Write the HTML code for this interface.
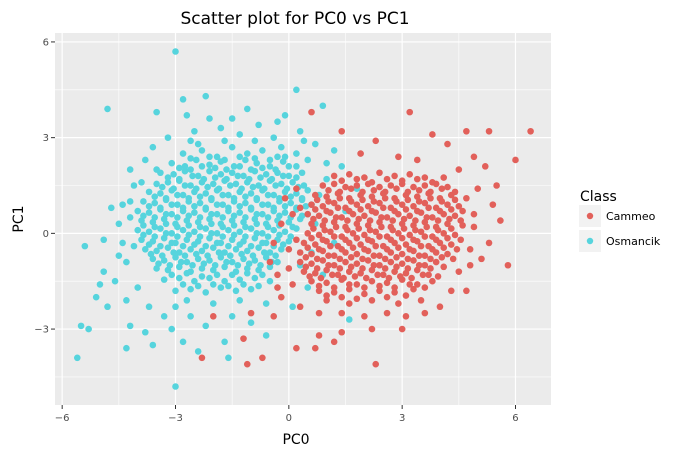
<!DOCTYPE html>
<html><head><meta charset="utf-8">
<style>
body{margin:0;background:#fff;font-family:"Liberation Sans","DejaVu Sans",sans-serif;}
svg text{font-family:"DejaVu Sans","Liberation Sans",sans-serif;}
</style></head>
<body>
<svg id="chart" width="692" height="456" xmlns="http://www.w3.org/2000/svg">
<text x="295" y="24" text-anchor="middle" font-size="17" fill="#000">Scatter plot for PC0 vs PC1</text>
<rect x="55" y="33" width="496" height="372" fill="#EBEBEB"/>
<g id="grid"></g>
<g id="points"></g>
<g id="axes"></g>
<text x="296" y="444" text-anchor="middle" font-size="14" fill="#000">PC0</text>
<text transform="translate(23,219) rotate(-90)" text-anchor="middle" font-size="14" fill="#000">PC1</text>
<g>
<text x="580" y="201" font-size="14" fill="#000">Class</text>
<rect x="579" y="205" width="22" height="22" fill="#F2F2F2"/>
<circle cx="590" cy="216" r="3.2" fill="#E2605A"/>
<text x="606" y="220" font-size="11" fill="#000">Cammeo</text>
<rect x="579" y="230" width="22" height="22" fill="#F2F2F2"/>
<circle cx="590" cy="241" r="3.2" fill="#56D4DD"/>
<text x="606" y="245" font-size="11" fill="#000">Osmancik</text>
</g>
</svg>
<script>
const xTicks = [-6, -3, 0, 3, 6];
const yTicks = [-3, 0, 3, 6];
const xMinor = [-4.5, -1.5, 1.5, 4.5];
const yMinor = [-4.5, -1.5, 1.5, 4.5];
const cyanPts = [
[-3.0,5.7],[-4.8,3.9],[0.2,4.5],[-2.2,4.3],[-2.8,4.2],[0.9,4.0],[-1.1,3.9],[-3.5,3.8],[-2.7,3.7],[-0.3,3.5],[-1.5,3.6],[-2.1,3.6],[-0.8,3.4],[-2.5,3.2],[0.3,3.2],[-1.8,3.3],[-3.2,3.0],[-0.4,3.0],[-1.3,3.1],[0.7,2.8],[1.2,2.6],[-3.6,2.7],[-2.6,2.9],[-4.2,2.0],[-3.8,2.3],[1.0,2.2],
[-2.8,2.5],[-2.3,2.6],[-1.9,2.4],[-1.5,2.7],[-1.1,2.5],[-0.7,2.6],[-0.3,2.4],[0.2,2.5],
[-3.1,2.2],[-2.75,2.1],[-2.45,2.3],[-2.1,2.15],[-1.8,2.25],[-1.45,2.1],[-1.15,2.3],[-0.85,2.2],[-0.5,2.1],[-0.15,2.25],[0.2,2.1],
[-3.4,1.9],[-3.05,1.85],[-2.75,1.95],[-2.4,1.8],[-2.1,1.95],[-1.8,1.85],[-1.5,1.9],[-1.2,1.8],[-0.9,1.95],[-0.6,1.85],[-0.3,1.9],[0.0,1.8],[0.35,1.9],
[-3.5,1.55],[-3.2,1.6],[-2.9,1.65],[-2.6,1.5],[-2.3,1.6],[-2.0,1.55],[-1.7,1.65],[-1.4,1.55],[-1.1,1.6],[-0.8,1.5],[-0.5,1.65],[-0.2,1.55],[0.1,1.6],[0.4,1.5],
[-3.7,1.3],[-3.4,1.25],[-3.1,1.35],[-2.8,1.2],[-2.5,1.3],[-2.2,1.25],[-1.9,1.35],[-1.6,1.2],[-1.3,1.3],[-1.0,1.25],[-0.7,1.35],[-0.4,1.2],[-0.1,1.3],[0.2,1.25],[0.5,1.35],
[-3.85,1.0],[-3.55,0.95],[-3.25,1.05],[-2.95,0.9],[-2.65,1.0],[-2.35,0.95],[-2.05,1.05],[-1.75,0.9],[-1.45,1.0],[-1.15,0.95],[-0.85,1.05],[-0.55,0.9],[-0.25,1.0],[0.05,0.95],[0.35,1.05],[0.6,0.9],
[-4.0,0.7],[-3.7,0.65],[-3.4,0.75],[-3.1,0.6],[-2.8,0.7],[-2.5,0.65],[-2.2,0.75],[-1.9,0.6],[-1.6,0.7],[-1.3,0.65],[-1.0,0.75],[-0.7,0.6],[-0.4,0.7],[-0.1,0.65],[0.2,0.75],[0.5,0.6],
[-3.9,0.4],[-3.6,0.35],[-3.3,0.45],[-3.0,0.3],[-2.7,0.4],[-2.4,0.35],[-2.1,0.45],[-1.8,0.3],[-1.5,0.4],[-1.2,0.35],[-0.9,0.45],[-0.6,0.3],[-0.3,0.4],[0.0,0.35],[0.3,0.45],
[-4.0,0.1],[-3.7,0.05],[-3.4,0.15],[-3.1,0.0],[-2.8,0.1],[-2.5,0.05],[-2.2,0.15],[-1.9,0.0],[-1.6,0.1],[-1.3,0.05],[-1.0,0.15],[-0.7,0.0],[-0.4,0.1],[-0.1,0.05],[0.2,0.15],
[-3.9,-0.2],[-3.6,-0.25],[-3.3,-0.15],[-3.0,-0.3],[-2.7,-0.2],[-2.4,-0.25],[-2.1,-0.15],[-1.8,-0.3],[-1.5,-0.2],[-1.2,-0.25],[-0.9,-0.15],[-0.6,-0.3],[-0.3,-0.2],[0.0,-0.25],
[-3.8,-0.5],[-3.5,-0.55],[-3.2,-0.45],[-2.9,-0.6],[-2.6,-0.5],[-2.3,-0.55],[-2.0,-0.45],[-1.7,-0.6],[-1.4,-0.5],[-1.1,-0.55],[-0.8,-0.45],[-0.5,-0.6],[-0.2,-0.5],
[-3.6,-0.8],[-3.3,-0.85],[-3.0,-0.75],[-2.7,-0.9],[-2.4,-0.8],[-2.1,-0.85],[-1.8,-0.75],[-1.5,-0.9],[-1.2,-0.8],[-0.9,-0.85],[-0.6,-0.75],[-0.3,-0.9],
[-3.5,-1.1],[-3.2,-1.15],[-2.9,-1.05],[-2.6,-1.2],[-2.3,-1.1],[-2.0,-1.15],[-1.7,-1.05],[-1.4,-1.2],[-1.1,-1.1],[-0.8,-1.15],[-0.5,-1.05],
[-3.3,-1.45],[-2.9,-1.4],[-2.5,-1.5],[-2.1,-1.4],[-1.7,-1.5],[-1.3,-1.45],[-0.9,-1.4],[-0.5,-1.5],
[-3.0,-1.8],[-2.6,-1.75],[-2.2,-1.85],[-1.8,-1.7],[-1.4,-1.8],[-1.0,-1.75],
[-2.7,-2.1],[-2.0,-2.2],[-1.3,-2.1],[-0.6,-2.2],
[-4.4,-0.3],[-4.5,0.3],[-4.3,-0.9],[-4.6,-1.5],[-4.9,-1.2],[-5.0,-1.6],[-5.4,-0.4],[-5.1,-2.0],[-4.8,-2.3],[-4.3,-2.1],[-4.0,-1.7],[-3.7,-2.3],[-3.3,-2.6],[-3.0,-2.3],[-2.6,-2.6],
[-4.2,-2.9],[-3.8,-3.1],[-3.1,-3.0],[-2.2,-2.9],[-1.5,-2.6],[-1.0,-2.8],[-0.6,-3.2],[-1.7,-3.4],[-2.8,-3.4],[-3.6,-3.5],[-4.3,-3.6],[-5.5,-2.9],[-5.6,-3.9],[-5.3,-3.0],[-3.0,-4.8],[-1.6,-3.9],[-2.4,-3.7],
[-4.9,-0.2],[-4.7,0.8],[-4.4,0.9],[-4.1,1.5],[-4.5,-0.7],[0.6,-0.6],[0.3,-1.0],[0.5,-1.7],[0.1,-2.3],[0.7,0.3],[0.8,1.2],[1.0,1.7],[1.4,2.1],[1.5,0.7],[1.2,-0.3],[0.9,-1.3],[1.8,1.4],[1.6,-2.7],[0.4,2.9],[-0.1,3.7]
];
const cyanPts2 = [
[-2.6,2.35],[-2.1,2.4],[-1.7,2.3],[-1.3,2.4],[-0.9,2.35],[-0.5,2.3],[-0.1,2.4],
[-2.9,2.05],[-2.6,2.0],[-2.3,2.1],[-1.95,2.05],[-1.65,2.0],[-1.3,2.1],[-1.0,2.0],[-0.7,2.05],[-0.35,2.0],[0.0,2.1],
[-3.2,1.75],[-2.9,1.7],[-2.55,1.8],[-2.25,1.7],[-1.95,1.75],[-1.65,1.7],[-1.35,1.8],[-1.05,1.7],[-0.75,1.75],[-0.45,1.7],[-0.15,1.8],[0.2,1.75],
[-3.35,1.45],[-3.05,1.4],[-2.75,1.5],[-2.45,1.4],[-2.15,1.45],[-1.85,1.4],[-1.55,1.5],[-1.25,1.4],[-0.95,1.45],[-0.65,1.4],[-0.35,1.5],[-0.05,1.4],[0.25,1.45],
[-3.55,1.15],[-3.25,1.1],[-2.95,1.2],[-2.65,1.1],[-2.35,1.15],[-2.05,1.1],[-1.75,1.2],[-1.45,1.1],[-1.15,1.15],[-0.85,1.1],[-0.55,1.2],[-0.25,1.1],[0.05,1.15],[0.35,1.1],
[-3.7,0.85],[-3.4,0.8],[-3.1,0.9],[-2.8,0.8],[-2.5,0.85],[-2.2,0.8],[-1.9,0.9],[-1.6,0.8],[-1.3,0.85],[-1.0,0.8],[-0.7,0.9],[-0.4,0.8],[-0.1,0.85],[0.2,0.8],[0.45,0.85],
[-3.85,0.55],[-3.55,0.5],[-3.25,0.6],[-2.95,0.5],[-2.65,0.55],[-2.35,0.5],[-2.05,0.6],[-1.75,0.5],[-1.45,0.55],[-1.15,0.5],[-0.85,0.6],[-0.55,0.5],[-0.25,0.55],[0.05,0.5],[0.35,0.55],
[-3.85,0.25],[-3.55,0.2],[-3.25,0.3],[-2.95,0.2],[-2.65,0.25],[-2.35,0.2],[-2.05,0.3],[-1.75,0.2],[-1.45,0.25],[-1.15,0.2],[-0.85,0.3],[-0.55,0.2],[-0.25,0.25],[0.1,0.2],
[-3.85,-0.05],[-3.55,-0.1],[-3.25,0.0],[-2.95,-0.1],[-2.65,-0.05],[-2.35,-0.1],[-2.05,0.0],[-1.75,-0.1],[-1.45,-0.05],[-1.15,-0.1],[-0.85,0.0],[-0.55,-0.1],[-0.25,-0.05],[0.05,-0.1],
[-3.7,-0.35],[-3.4,-0.4],[-3.1,-0.3],[-2.8,-0.4],[-2.5,-0.35],[-2.2,-0.4],[-1.9,-0.3],[-1.6,-0.4],[-1.3,-0.35],[-1.0,-0.4],[-0.7,-0.3],[-0.4,-0.4],[-0.15,-0.35],
[-3.65,-0.65],[-3.35,-0.7],[-3.05,-0.6],[-2.75,-0.7],[-2.45,-0.65],[-2.15,-0.7],[-1.85,-0.6],[-1.55,-0.7],[-1.25,-0.65],[-0.95,-0.7],[-0.65,-0.6],[-0.35,-0.7],
[-3.45,-0.95],[-3.15,-1.0],[-2.85,-0.9],[-2.55,-1.0],[-2.25,-0.95],[-1.95,-1.0],[-1.65,-0.9],[-1.35,-1.0],[-1.05,-0.95],[-0.75,-1.0],[-0.45,-0.9],
[-3.1,-1.3],[-2.7,-1.25],[-2.3,-1.35],[-1.9,-1.3],[-1.5,-1.3],[-1.1,-1.25],[-0.7,-1.3],
[-2.8,-1.6],[-2.4,-1.65],[-2.0,-1.6],[-1.6,-1.65],[-1.2,-1.6],[-0.8,-1.65],
[-4.2,0.5],[-4.1,-0.4],[-4.2,1.0],[-3.9,1.6],[-3.5,2.0],[-2.4,2.8],[-1.7,2.9],[-0.9,2.9],[-0.2,2.7],[0.5,2.3]
];
const redPts = [
[1.2,1.8],[1.6,1.85],[2.0,1.75],[2.4,1.9],[2.8,1.8],[3.2,1.85],[3.6,1.75],
[0.9,1.5],[1.2,1.55],[1.5,1.45],[1.8,1.5],[2.1,1.55],[2.4,1.45],[2.7,1.5],[3.0,1.55],[3.3,1.45],[3.6,1.5],[3.9,1.55],[4.2,1.45],
[0.7,1.2],[1.0,1.15],[1.3,1.25],[1.6,1.1],[1.9,1.2],[2.2,1.15],[2.5,1.25],[2.8,1.1],[3.1,1.2],[3.4,1.15],[3.7,1.25],[4.0,1.1],[4.3,1.2],
[0.6,0.9],[0.9,0.85],[1.2,0.95],[1.5,0.8],[1.8,0.9],[2.1,0.85],[2.4,0.95],[2.7,0.8],[3.0,0.9],[3.3,0.85],[3.6,0.95],[3.9,0.8],[4.2,0.9],[4.5,0.85],
[0.5,0.6],[0.8,0.55],[1.1,0.65],[1.4,0.5],[1.7,0.6],[2.0,0.55],[2.3,0.65],[2.6,0.5],[2.9,0.6],[3.2,0.55],[3.5,0.65],[3.8,0.5],[4.1,0.6],[4.4,0.55],
[0.6,0.3],[0.9,0.25],[1.2,0.35],[1.5,0.2],[1.8,0.3],[2.1,0.25],[2.4,0.35],[2.7,0.2],[3.0,0.3],[3.3,0.25],[3.6,0.35],[3.9,0.2],[4.2,0.3],[4.6,0.25],
[0.5,0.0],[0.8,-0.05],[1.1,0.05],[1.4,-0.1],[1.7,0.0],[2.0,-0.05],[2.3,0.05],[2.6,-0.1],[2.9,0.0],[3.2,-0.05],[3.5,0.05],[3.8,-0.1],[4.1,0.0],[4.4,-0.05],
[0.4,-0.3],[0.7,-0.35],[1.0,-0.25],[1.3,-0.4],[1.6,-0.3],[1.9,-0.35],[2.2,-0.25],[2.5,-0.4],[2.8,-0.3],[3.1,-0.35],[3.4,-0.25],[3.7,-0.4],[4.0,-0.3],[4.3,-0.35],
[0.3,-0.6],[0.6,-0.65],[0.9,-0.55],[1.2,-0.7],[1.5,-0.6],[1.8,-0.65],[2.1,-0.55],[2.4,-0.7],[2.7,-0.6],[3.0,-0.65],[3.3,-0.55],[3.6,-0.7],[3.9,-0.6],[4.2,-0.65],
[0.3,-0.9],[0.6,-0.95],[0.9,-0.85],[1.2,-1.0],[1.5,-0.9],[1.8,-0.95],[2.1,-0.85],[2.4,-1.0],[2.7,-0.9],[3.0,-0.95],[3.3,-0.85],[3.6,-1.0],[3.9,-0.9],
[0.4,-1.2],[0.7,-1.25],[1.0,-1.15],[1.3,-1.3],[1.6,-1.2],[1.9,-1.25],[2.2,-1.15],[2.5,-1.3],[2.8,-1.2],[3.1,-1.25],[3.4,-1.15],[3.7,-1.3],
[0.6,-1.5],[1.0,-1.55],[1.4,-1.45],[1.8,-1.6],[2.2,-1.5],[2.6,-1.55],[3.0,-1.45],[3.4,-1.6],[3.8,-1.5],
[0.8,-1.8],[1.2,-1.85],[1.6,-1.75],[2.0,-1.9],[2.4,-1.8],[2.8,-1.85],[3.3,-1.75],
[1.0,-2.1],[1.6,-2.2],[2.2,-2.1],[2.9,-2.2],[3.5,-2.1],
[6.4,3.2],[5.3,3.2],[4.7,3.2],[3.2,3.8],[3.8,3.1],[2.3,2.9],[1.4,3.2],[0.6,3.8],[4.2,2.8],[4.9,2.4],[6.0,2.3],[5.2,2.1],[4.5,2.0],[2.9,2.4],[3.4,2.3],[1.9,2.5],
[5.0,1.4],[5.4,0.9],[5.6,0.4],[5.3,-0.3],[5.8,-1.0],[5.1,-0.8],[4.8,-0.5],[4.9,0.2],[4.7,1.1],[5.5,1.5],
[4.5,-1.2],[4.3,-1.8],[4.0,-2.3],[4.7,-1.8],[3.6,-2.5],[3.1,-2.6],[2.6,-2.5],[2.0,-2.6],[1.4,-2.5],[0.8,-2.5],[0.3,-2.3],[-0.2,-2.0],[-0.3,-1.3],[0.1,-1.6],
[2.2,-3.0],[1.4,-3.1],[0.8,-3.2],[3.0,-3.0],[0.2,-3.6],[0.7,-3.6],[1.2,-3.4],[2.3,-4.1],[-1.1,-4.1],[-0.7,-3.9],[-2.3,-3.9],[-1.2,-3.3],[-1.0,-2.5],[-0.4,-2.6],[-2.0,-2.6],
[-0.2,0.3],[0.1,0.6],[0.0,-0.5],[-0.5,-0.9],[0.2,1.4],[-0.1,1.1]
];
const redPts2 = [
[1.4,1.65],[1.8,1.7],[2.2,1.6],[2.6,1.7],[3.0,1.65],[3.4,1.7],[3.8,1.6],[4.1,1.75],
[1.05,1.35],[1.35,1.3],[1.65,1.4],[1.95,1.3],[2.25,1.35],[2.55,1.3],[2.85,1.4],[3.15,1.3],[3.45,1.35],[3.75,1.3],[4.05,1.4],[4.4,1.3],
[0.75,1.05],[1.05,1.0],[1.35,1.1],[1.65,1.0],[1.95,1.05],[2.25,1.0],[2.55,1.1],[2.85,1.0],[3.15,1.05],[3.45,1.0],[3.75,1.1],[4.05,1.0],[4.4,1.05],
[0.7,0.75],[1.0,0.7],[1.3,0.8],[1.6,0.7],[1.9,0.75],[2.2,0.7],[2.5,0.8],[2.8,0.7],[3.1,0.75],[3.4,0.7],[3.7,0.8],[4.0,0.7],[4.3,0.75],[4.6,0.7],
[0.65,0.45],[0.95,0.4],[1.25,0.5],[1.55,0.4],[1.85,0.45],[2.15,0.4],[2.45,0.5],[2.75,0.4],[3.05,0.45],[3.35,0.4],[3.65,0.5],[3.95,0.4],[4.25,0.45],[4.55,0.4],
[0.65,0.15],[0.95,0.1],[1.25,0.2],[1.55,0.1],[1.85,0.15],[2.15,0.1],[2.45,0.2],[2.75,0.1],[3.05,0.15],[3.35,0.1],[3.65,0.2],[3.95,0.1],[4.3,0.15],
[0.6,-0.15],[0.9,-0.2],[1.2,-0.1],[1.5,-0.2],[1.8,-0.15],[2.1,-0.2],[2.4,-0.1],[2.7,-0.2],[3.0,-0.15],[3.3,-0.2],[3.6,-0.1],[3.9,-0.2],[4.2,-0.15],[4.55,-0.2],
[0.5,-0.45],[0.8,-0.5],[1.1,-0.4],[1.4,-0.5],[1.7,-0.45],[2.0,-0.5],[2.3,-0.4],[2.6,-0.5],[2.9,-0.45],[3.2,-0.5],[3.5,-0.4],[3.8,-0.5],[4.1,-0.45],[4.45,-0.5],
[0.45,-0.75],[0.75,-0.8],[1.05,-0.7],[1.35,-0.8],[1.65,-0.75],[1.95,-0.8],[2.25,-0.7],[2.55,-0.8],[2.85,-0.75],[3.15,-0.8],[3.45,-0.7],[3.75,-0.8],[4.05,-0.75],[4.35,-0.8],
[0.45,-1.05],[0.75,-1.1],[1.05,-1.0],[1.35,-1.1],[1.65,-1.05],[1.95,-1.1],[2.25,-1.0],[2.55,-1.1],[2.85,-1.05],[3.15,-1.1],[3.45,-1.0],[3.75,-1.1],[4.1,-1.05],
[0.55,-1.35],[0.85,-1.4],[1.15,-1.3],[1.45,-1.4],[1.75,-1.35],[2.05,-1.4],[2.35,-1.3],[2.65,-1.4],[2.95,-1.35],[3.25,-1.4],[3.55,-1.3],[3.95,-1.35],
[0.8,-1.65],[1.2,-1.7],[1.6,-1.6],[2.0,-1.7],[2.4,-1.65],[2.8,-1.7],[3.2,-1.6],[3.6,-1.7],
[1.0,-1.95],[1.4,-2.0],[1.8,-2.05],[2.6,-2.0],[3.1,-1.95],[-0.4,-0.3],[-0.3,-1.7],[0.0,-1.1],[0.2,-0.2],[0.3,0.8],[4.8,-1.0],[4.9,0.6]
];
const X0=-6.19,X1=6.94,Y0=-5.38,Y1=6.28;
const PL=55,PR=551,PT=33,PB=405;
const sx=v=>PL+(v-X0)/(X1-X0)*(PR-PL);
const sy=v=>PB-(v-Y0)/(Y1-Y0)*(PB-PT);
const NS="http://www.w3.org/2000/svg";
const grid=document.getElementById('grid'),axes=document.getElementById('axes'),pts=document.getElementById('points');
function ln(g,x1,y1,x2,y2,c,w){const l=document.createElementNS(NS,'line');l.setAttribute('x1',x1);l.setAttribute('y1',y1);l.setAttribute('x2',x2);l.setAttribute('y2',y2);l.setAttribute('stroke',c);l.setAttribute('stroke-width',w);g.appendChild(l);return l;}
xMinor.forEach(v=>{const l=ln(grid,sx(v),PT,sx(v),PB,'#fff',0.6);

});
yMinor.forEach(v=>{const l=ln(grid,PL,sy(v),PR,sy(v),'#fff',0.6);

});
xTicks.forEach(v=>{const l=ln(grid,sx(v),PT,sx(v),PB,'#fff',1.2);


const t=ln(axes,sx(v),PB,sx(v),PB+4,'#333',1);


const tx=document.createElementNS(NS,'text');tx.setAttribute('x',sx(v));tx.setAttribute('y',PB+16);tx.setAttribute('text-anchor','middle');tx.setAttribute('font-size','10');tx.setAttribute('fill','#4d4d4d');tx.textContent=v<0?'\u2212'+Math.abs(v):v;


axes.appendChild(tx);});
yTicks.forEach(v=>{const l=ln(grid,PL,sy(v),PR,sy(v),'#fff',1.2);


const t=ln(axes,PL-4,sy(v),PL,sy(v),'#333',1);


const tx=document.createElementNS(NS,'text');tx.setAttribute('x',PL-6);tx.setAttribute('y',sy(v)+3.5);tx.setAttribute('text-anchor','end');tx.setAttribute('font-size','10');tx.setAttribute('fill','#4d4d4d');tx.textContent=v<0?'\u2212'+Math.abs(v):v;


axes.appendChild(tx);});
function dot(p,col,name){const c=document.createElementNS(NS,'circle');c.setAttribute('cx',sx(p[0]));c.setAttribute('cy',sy(p[1]));c.setAttribute('r',3.3);c.setAttribute('fill',col);


pts.appendChild(c);}
cyanPts.forEach(p=>dot(p,'#56D4DD','osmancik-point'));
cyanPts2.forEach(p=>dot(p,'#56D4DD','osmancik-point'));
redPts.forEach(p=>dot(p,'#E2605A','cammeo-point'));
redPts2.forEach(p=>dot(p,'#E2605A','cammeo-point'));
</script>
</body></html>
